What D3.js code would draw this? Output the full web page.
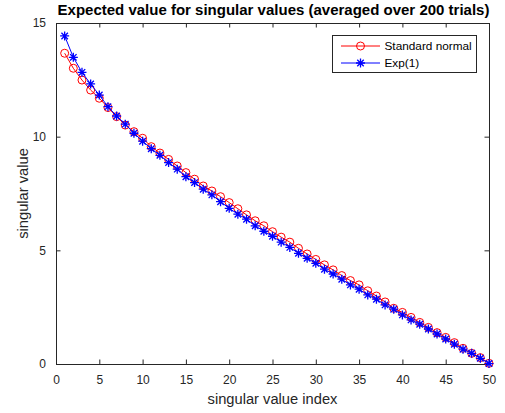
<!DOCTYPE html>
<html><head><meta charset="utf-8">
<script src="https://cdn.jsdelivr.net/npm/d3@7"></script>
<style>html,body{margin:0;padding:0;background:#fff;} svg{display:block;}</style>
</head><body>
<svg id="chart" width="505" height="413"></svg>
<script>
const titleText = "Expected value for singular values (averaged over 200 trials)";
const xLabel = "singular value index";
const yLabel = "singular value";
const seriesNames = ["Standard normal", "Exp(1)"];
const indices = d3.range(1, 51);
const normalValues = [13.67,13.01,12.49,12.05,11.69,11.28,10.88,10.51,10.22,9.93,
  9.56,9.28,9.00,8.71,8.42,8.13,7.83,7.61,7.36,7.10,
  6.83,6.56,6.30,6.08,5.82,5.58,5.36,5.09,4.84,4.60,
  4.36,4.14,3.89,3.67,3.48,3.22,2.99,2.73,2.45,2.27,
  2.05,1.83,1.61,1.38,1.17,0.94,0.69,0.47,0.28,0.03];
const expValues = [14.43,13.49,12.83,12.32,11.83,11.32,10.91,10.55,10.15,9.80,
  9.47,9.18,8.86,8.57,8.24,7.98,7.69,7.44,7.14,6.85,
  6.59,6.37,6.08,5.84,5.62,5.36,5.13,4.87,4.65,4.43,
  4.17,3.96,3.73,3.48,3.29,3.04,2.85,2.60,2.41,2.16,
  1.94,1.75,1.54,1.32,1.10,0.87,0.65,0.47,0.25,0.02];
const xTicks = [0,5,10,15,20,25,30,35,40,45,50];
const yTicks = [0,5,10,15];

const font = "'Liberation Sans', Arial, Helvetica, sans-serif";
const axisColor = "#262626";
const svg = d3.select("#chart");
const L = 56, R = 489, T = 23, B = 364;
const x = d3.scaleLinear().domain([0,50]).range([L,R]);
const y = d3.scaleLinear().domain([0,15]).range([B,T]);

// Axes
const tickLen = 4.5;
const gx = svg.append("g").attr("transform", `translate(0,${B})`)
  .call(d3.axisBottom(x).tickValues(xTicks).tickSizeInner(-tickLen).tickSizeOuter(0).tickPadding(11));
const gxTop = svg.append("g").attr("transform", `translate(0,${T})`)
  .call(d3.axisTop(x).tickValues(xTicks).tickSizeInner(-tickLen).tickSizeOuter(0).tickFormat(""));
const gy = svg.append("g").attr("transform", `translate(${L},0)`)
  .call(d3.axisLeft(y).tickValues(yTicks).tickSizeInner(-tickLen).tickSizeOuter(0).tickPadding(10));
const gyR = svg.append("g").attr("transform", `translate(${R},0)`)
  .call(d3.axisRight(y).tickValues(yTicks).tickSizeInner(-tickLen).tickSizeOuter(0).tickFormat(""));
[gx,gxTop,gy,gyR].forEach(g=>{
  g.select(".domain").attr("stroke", axisColor).attr("stroke-width",1);
  g.selectAll(".tick line").attr("stroke", axisColor).attr("stroke-width",1);
  g.selectAll(".tick text").attr("fill", axisColor).style("font-family", font).style("font-size","12px");
});
gx.selectAll(".tick text").attr("dy", "0.71em");

// Series
const normData = indices.map((d,i)=>({x:d, y:normalValues[i]}));
const expData = indices.map((d,i)=>({x:d, y:expValues[i]}));
const line = d3.line().x(d=>x(d.x)).y(d=>y(d.y));
const clip = svg.append("g");
clip.append("path").datum(normData).attr("d", line).attr("fill","none").attr("stroke","#ff0000").attr("stroke-width",1);
clip.selectAll("circle.n").data(normData).join("circle").attr("class","n")
  .attr("cx", d=>x(d.x)).attr("cy", d=>y(d.y)).attr("r",4)
  .attr("fill","none").attr("stroke","#ff0000").attr("stroke-width",1);
clip.append("path").datum(expData).attr("d", line).attr("fill","none").attr("stroke","#0000ff").attr("stroke-width",1);
function star(cx, cy, s){
  const d = s*0.72;
  return `M${cx-s},${cy}L${cx+s},${cy}M${cx},${cy-s}L${cx},${cy+s}M${cx-d},${cy-d}L${cx+d},${cy+d}M${cx-d},${cy+d}L${cx+d},${cy-d}`;
}
clip.selectAll("path.e").data(expData).join("path").attr("class","e")
  .attr("d", d=>star(x(d.x), y(d.y), 4.5)).attr("fill","none").attr("stroke","#0000ff").attr("stroke-width",1.3);

// Axis labels and title
svg.append("text").attr("x", (L+R)/2).attr("y", 404).attr("text-anchor","middle")
  .attr("fill", axisColor).style("font-family", font).style("font-size","14.7px").text(xLabel);
svg.append("text").attr("transform", `translate(28,${(T+B)/2}) rotate(-90)`).attr("text-anchor","middle")
  .attr("fill", axisColor).style("font-family", font).style("font-size","14.7px").text(yLabel);
svg.append("text").attr("x", (L+R)/2+1).attr("y", 15).attr("text-anchor","middle")
  .attr("fill", "#000").style("font-family", font).style("font-size","15px").style("font-weight","bold").text(titleText);

// Legend
const lg = svg.append("g");
lg.append("rect").attr("x",332.5).attr("y",35.5).attr("width",144).attr("height",37)
  .attr("fill","#fff").attr("stroke",axisColor).attr("stroke-width",1);
const rows = [
  {name: seriesNames[0], color:"#ff0000", type:"circle", yy:46},
  {name: seriesNames[1], color:"#0000ff", type:"star", yy:63}
];
rows.forEach(r=>{
  lg.append("line").attr("x1",341).attr("x2",380).attr("y1",r.yy).attr("y2",r.yy).attr("stroke",r.color).attr("stroke-width",1);
  if(r.type==="circle") lg.append("circle").attr("cx",360.5).attr("cy",r.yy).attr("r",4).attr("fill","none").attr("stroke",r.color);
  else lg.append("path").attr("d", star(360.5, r.yy, 4.5)).attr("stroke",r.color).attr("stroke-width",1.3).attr("fill","none");
  lg.append("text").attr("x",384.5).attr("y",r.yy).attr("dy","0.35em").attr("fill","#000")
    .style("font-family", font).style("font-size","11.8px").text(r.name);
});
</script>
</body></html>
